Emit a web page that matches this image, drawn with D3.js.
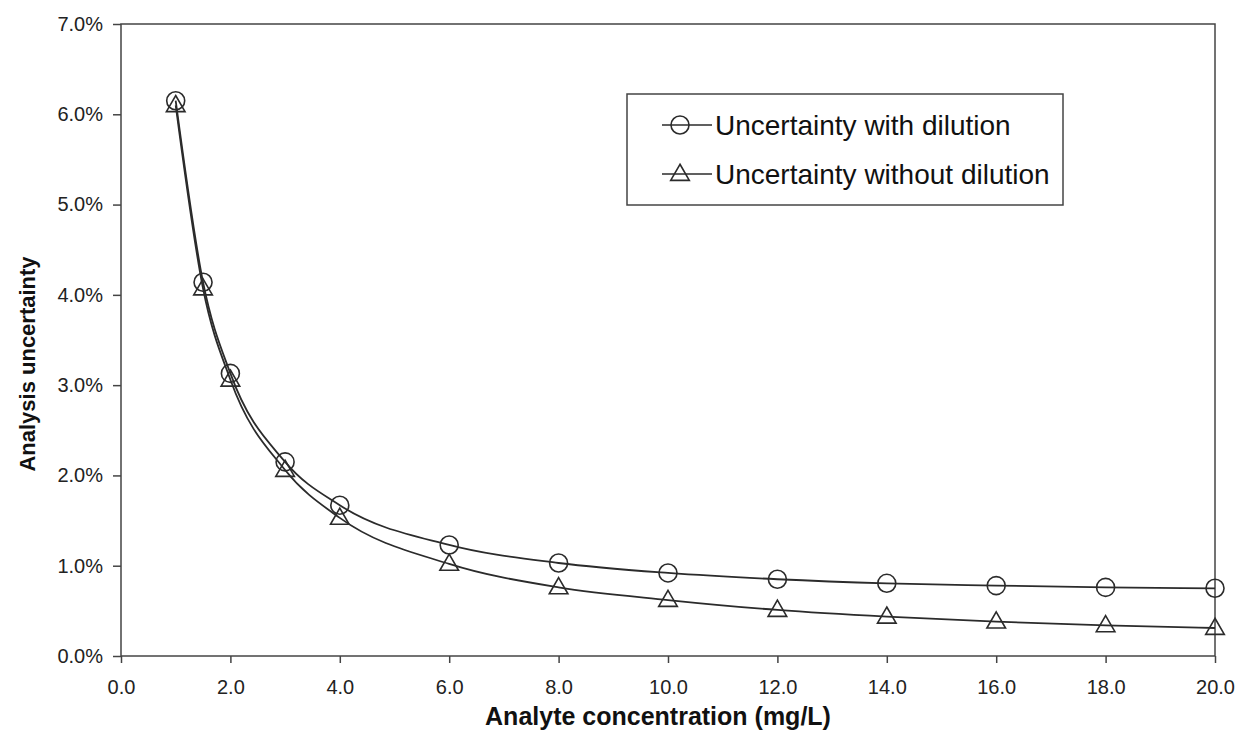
<!DOCTYPE html>
<html>
<head>
<meta charset="utf-8">
<script src="https://cdn.jsdelivr.net/npm/d3@7"></script>
<style>
  body { margin: 0; background: #fff; }
  svg { display: block; font-family: Arial, "Liberation Sans", sans-serif; }
</style>
</head>
<body>
<svg id="chart" width="1239" height="737"></svg>
<script>
// concentration (mg/L)
const concentration = [1, 1.5, 2, 3, 4, 6, 8, 10, 12, 14, 16, 18, 20];
// uncertainty in %
const withDilution = [6.15, 4.14, 3.13, 2.15, 1.67, 1.23, 1.03, 0.92, 0.85, 0.805, 0.78, 0.76, 0.75];
const withoutDilution = [6.10, 4.07, 3.06, 2.06, 1.53, 1.02, 0.76, 0.62, 0.51, 0.435, 0.38, 0.34, 0.31];

const xTicks = [0, 2, 4, 6, 8, 10, 12, 14, 16, 18, 20];
const yTicks = [0, 1, 2, 3, 4, 5, 6, 7];
const seriesNames = ['Uncertainty with dilution', 'Uncertainty without dilution'];

const svg = d3.select('#chart');
const plotLeft = 121, plotRight = 1215, plotTop = 24, plotBottom = 656;
const ink = '#2b2b2b';

let x = d3.scaleLinear().domain([0, 20]).range([plotLeft, plotRight]);
let y = d3.scaleLinear().domain([0, 7]).range([plotBottom, plotTop]);

// frame
svg.append('rect')
  .attr('x', plotLeft).attr('y', plotTop)
  .attr('width', plotRight - plotLeft).attr('height', plotBottom - plotTop)
  .attr('fill', 'none')
  .attr('stroke', '#444')
  .attr('stroke-width', 1.5);

let xAxis = svg.append('g')
  .attr('transform', 'translate(0,' + plotBottom + ')')
  .call(d3.axisBottom(x).tickValues(xTicks).tickSize(7).tickPadding(17)
    .tickFormat(d3.format('.1f')));

let yAxis = svg.append('g')
  .attr('transform', 'translate(' + plotLeft + ',0)')
  .call(d3.axisLeft(y).tickValues(yTicks).tickSize(8).tickPadding(10)
    .tickFormat(function (d) { return d.toFixed(1) + '%'; }));

[xAxis, yAxis].forEach(function (g) {
  g.select('.domain').remove();
  g.selectAll('line').attr('stroke', '#444').attr('stroke-width', 1.5);
  g.selectAll('text')
    .attr('fill', '#222')
    .style('font-size', '20px')
    .style('font-family', 'Arial, "Liberation Sans", sans-serif');
});

svg.append('text')
  .attr('x', 658)
  .attr('y', 725)
  .attr('text-anchor', 'middle')
  .attr('font-weight', 'bold')
  .attr('font-size', 25)
  .attr('fill', '#111')
  .text('Analyte concentration (mg/L)');

svg.append('text')
  .attr('transform', 'translate(35,364) rotate(-90)')
  .attr('text-anchor', 'middle')
  .attr('font-weight', 'bold')
  .attr('font-size', 22)
  .attr('fill', '#111')
  .text('Analysis uncertainty');

let line = d3.line()
  .x(function (d) { return x(d[0]); })
  .y(function (d) { return y(d[1]); })
  .curve(d3.curveMonotoneX);

let triangle = d3.symbol().type(d3.symbolTriangle).size(150);

function drawSeries(values, shape) {
  let pts = concentration.map(function (c, i) { return [c, values[i]]; });
  svg.append('path')
    .datum(pts)
    .attr('d', line)
    .attr('fill', 'none')
    .attr('stroke', ink)
    .attr('stroke-width', 1.8);

  let marks = svg.append('g').selectAll('g')
    .data(pts)
    .join('g')
    .attr('transform', function (d) { return 'translate(' + x(d[0]) + ',' + y(d[1]) + ')'; });
  drawMarker(marks, shape);
}

function drawMarker(sel, shape) {
  if (shape === 'circle') {
    sel.append('circle')
      .attr('r', 9)
      .attr('fill', 'none')
      .attr('stroke', ink)
      .attr('stroke-width', 1.6);
  } else {
    sel.append('path')
      .attr('d', triangle)
      .attr('transform', 'translate(0,1)')
      .attr('fill', 'none')
      .attr('stroke', ink)
      .attr('stroke-width', 1.6);
  }
}

drawSeries(withDilution, 'circle');
drawSeries(withoutDilution, 'triangle');

// legend
let legend = svg.append('g');
legend.append('rect')
  .attr('x', 627).attr('y', 94)
  .attr('width', 436).attr('height', 111)
  .attr('fill', '#fff')
  .attr('stroke', '#444')
  .attr('stroke-width', 1.5);

let rows = legend.selectAll('g.row')
  .data(seriesNames)
  .join('g')
  .attr('class', 'row')
  .attr('transform', function (d, i) { return 'translate(0,' + (125 + i * 49) + ')'; });

rows.append('line')
  .attr('x1', 662).attr('x2', 712)
  .attr('stroke', ink)
  .attr('stroke-width', 1.6);

rows.each(function (d, i) {
  let g = d3.select(this).append('g').attr('transform', 'translate(680,0)');
  drawMarker(g, i === 0 ? 'circle' : 'triangle');
});

rows.append('text')
  .attr('x', 715)
  .attr('y', 10)
  .attr('font-size', 28)
  .attr('fill', '#111')
  .text(function (d) { return d; });
</script>
</body>
</html>
